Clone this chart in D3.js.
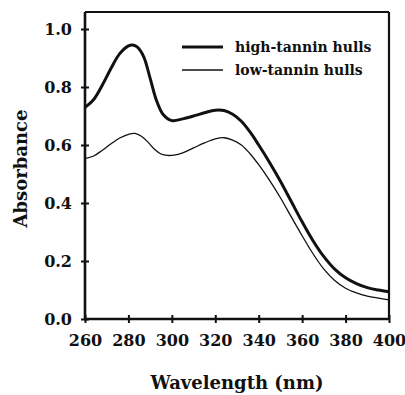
<!DOCTYPE html>
<html><head><meta charset="utf-8">
<script src="https://cdn.jsdelivr.net/npm/d3@7"></script>
<style>
body{margin:0;background:#fff;}
</style></head><body>
<svg id="c" width="405" height="395"></svg>
<script>
const highWl = [260,264,268,272,276,280,282,284,287,290,293,296,300,305,310,315,320,324,328,332,336,340,345,350,355,360,365,370,375,380,385,390,395,400];
const highAbs = [0.730,0.757,0.807,0.865,0.915,0.942,0.945,0.938,0.905,0.830,0.752,0.705,0.684,0.690,0.700,0.711,0.720,0.719,0.706,0.682,0.645,0.600,0.540,0.475,0.405,0.335,0.270,0.215,0.172,0.142,0.122,0.108,0.100,0.094];
const lowWl = [260,264,268,272,276,280,283,286,289,292,295,298,301,305,310,315,320,324,328,332,336,340,345,350,355,360,365,370,375,380,385,390,395,400];
const lowAbs = [0.553,0.562,0.582,0.604,0.624,0.637,0.640,0.630,0.610,0.585,0.569,0.564,0.565,0.573,0.590,0.607,0.621,0.625,0.617,0.600,0.570,0.532,0.478,0.418,0.352,0.287,0.225,0.172,0.133,0.106,0.090,0.079,0.072,0.066];
const xTicks = [260,280,300,320,340,360,380,400];
const yTicks = [0.0,0.2,0.4,0.6,0.8,1.0];
const seriesNames = ["high-tannin hulls","low-tannin hulls"];
const xTitle = "Wavelength (nm)";
const yTitle = "Absorbance";

const FONT = "'DejaVu Serif', serif";
const svg = d3.select("#c");
const L=85, R=389, T=12, B=319;
const x = d3.scaleLinear().domain([260,400]).range([L,R]);
const y = d3.scaleLinear().domain([0,1]).range([B,29]);

svg.append("line").attr("x1",L).attr("x2",R).attr("y1",T).attr("y2",T).attr("stroke","#111").attr("stroke-width",2);
svg.append("line").attr("x1",R).attr("x2",R).attr("y1",T).attr("y2",B).attr("stroke","#111").attr("stroke-width",2.2);

const ya = svg.append("g").attr("transform",`translate(${L},0)`)
  .call(d3.axisLeft(y).tickValues(yTicks).tickFormat(d3.format(".1f")).tickSize(4).tickPadding(9));
ya.attr("font-family",FONT).attr("font-weight","bold");
ya.select(".domain").attr("d",`M0,${T}V${B+1}`).attr("stroke","#111").attr("stroke-width",2.6);
ya.selectAll(".tick line").attr("x1",-4).attr("x2",4).attr("stroke","#111").attr("stroke-width",2);
ya.selectAll(".tick text").attr("font-size",16).attr("dy","0.36em").attr("fill","#111");

const xa = svg.append("g").attr("transform",`translate(0,${B})`)
  .call(d3.axisBottom(x).tickValues(xTicks).tickFormat(d3.format("d")).tickSize(4).tickPadding(12));
xa.attr("font-family",FONT).attr("font-weight","bold");
xa.select(".domain").attr("d",`M${L-1},0H${R+1}`).attr("stroke","#111").attr("stroke-width",2.6);
xa.selectAll(".tick line").attr("y1",-4).attr("y2",4).attr("stroke","#111").attr("stroke-width",2);
xa.selectAll(".tick text").attr("font-size",16).attr("fill","#111");

const line = d3.line().x(d=>x(d[0])).y(d=>y(d[1])).curve(d3.curveCatmullRom.alpha(0.5));
svg.append("path").datum(highWl.map((w,i)=>[w,highAbs[i]])).attr("d",line)
  .attr("fill","none").attr("stroke","#111").attr("stroke-width",3);
svg.append("path").datum(lowWl.map((w,i)=>[w,lowAbs[i]])).attr("d",line)
  .attr("fill","none").attr("stroke","#111").attr("stroke-width",1.3);

const lg = svg.append("g").attr("font-family",FONT).attr("font-weight","bold");
[[47,3],[70,1.3]].forEach((v,i)=>{
  lg.append("line").attr("x1",182).attr("x2",223).attr("y1",v[0]).attr("y2",v[0]).attr("stroke","#111").attr("stroke-width",v[1]);
  lg.append("text").attr("x",235).attr("y",v[0]+5).attr("font-size",14).attr("fill","#111").text(seriesNames[i]);
});

svg.append("text").attr("x",(L+R)/2).attr("y",389).attr("text-anchor","middle").attr("font-size",18)
  .attr("font-family",FONT).attr("font-weight","bold").attr("fill","#111").text(xTitle);
svg.append("text").attr("transform",`translate(27,${(T+B)/2+3}) rotate(-90)`).attr("text-anchor","middle").attr("font-size",18)
  .attr("font-family",FONT).attr("font-weight","bold").attr("fill","#111").text(yTitle);
</script></body></html>
